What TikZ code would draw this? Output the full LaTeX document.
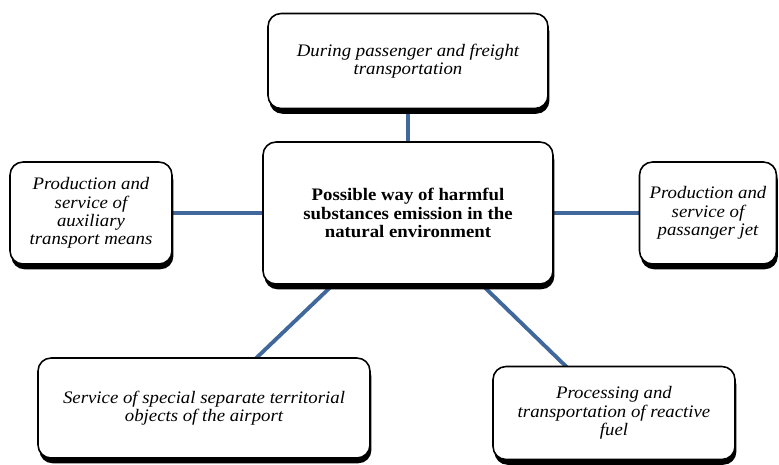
\documentclass[tikz,border=0pt]{standalone}
\usepackage{fontspec}
\setmainfont[FakeStretch=1.07]{Liberation Serif}
\usetikzlibrary{shadows,backgrounds}

\definecolor{linkblue}{HTML}{41689C}

\begin{document}
\begin{tikzpicture}[x=0.02cm,y=-0.02cm,
 box/.style={draw,line width=0.9pt,rounded corners=0.26cm,fill=white,
  align=center,inner sep=2pt,font=\fontsize{10pt}{10.4pt}\selectfont\itshape,
  general shadow={fill=black,shadow xshift=0.8pt,shadow yshift=-3pt}},
 link/.style={draw=linkblue,line width=2.2pt}]

\useasboundingbox (0,0) rectangle (779,465);

\node[box,minimum width=5.8cm,minimum height=2.84cm,font=\fontsize{10pt}{10.4pt}\selectfont\bfseries]
 (way) at (408,213) {Possible way of harmful\\substances emission in the\\natural environment};

\node[box,minimum width=5.6cm,minimum height=1.9cm] (freight) at (408,61)
 {During passenger and freight\\transportation};
\node[box,minimum width=3.24cm,minimum height=2.04cm] (auxil) at (91,213)
 {Production and\\service of\\auxiliary\\transport means};
\node[box,minimum width=2.74cm,minimum height=2.04cm] (jet) at (708,213)
 {Production and\\service of\\passanger jet};
\node[box,minimum width=6.64cm,minimum height=2cm] (airport) at (204,408)
 {Service of special separate territorial\\objects of the airport};
\node[box,minimum width=4.84cm,minimum height=1.86cm] (fuel) at (614,413)
 {Processing and\\transportation of reactive\\fuel};

% connectors behind the boxes
\begin{pgfonlayer}{background}
 \draw[link] (way.center) -- (freight.center);
 \draw[link] (way.center) -- (auxil.center);
 \draw[link] (way.center) -- (jet.center);
 \draw[link] (way.center) -- (airport.center);
 \draw[link] (way.center) -- (fuel.center);
\end{pgfonlayer}

\end{tikzpicture}
\end{document}
